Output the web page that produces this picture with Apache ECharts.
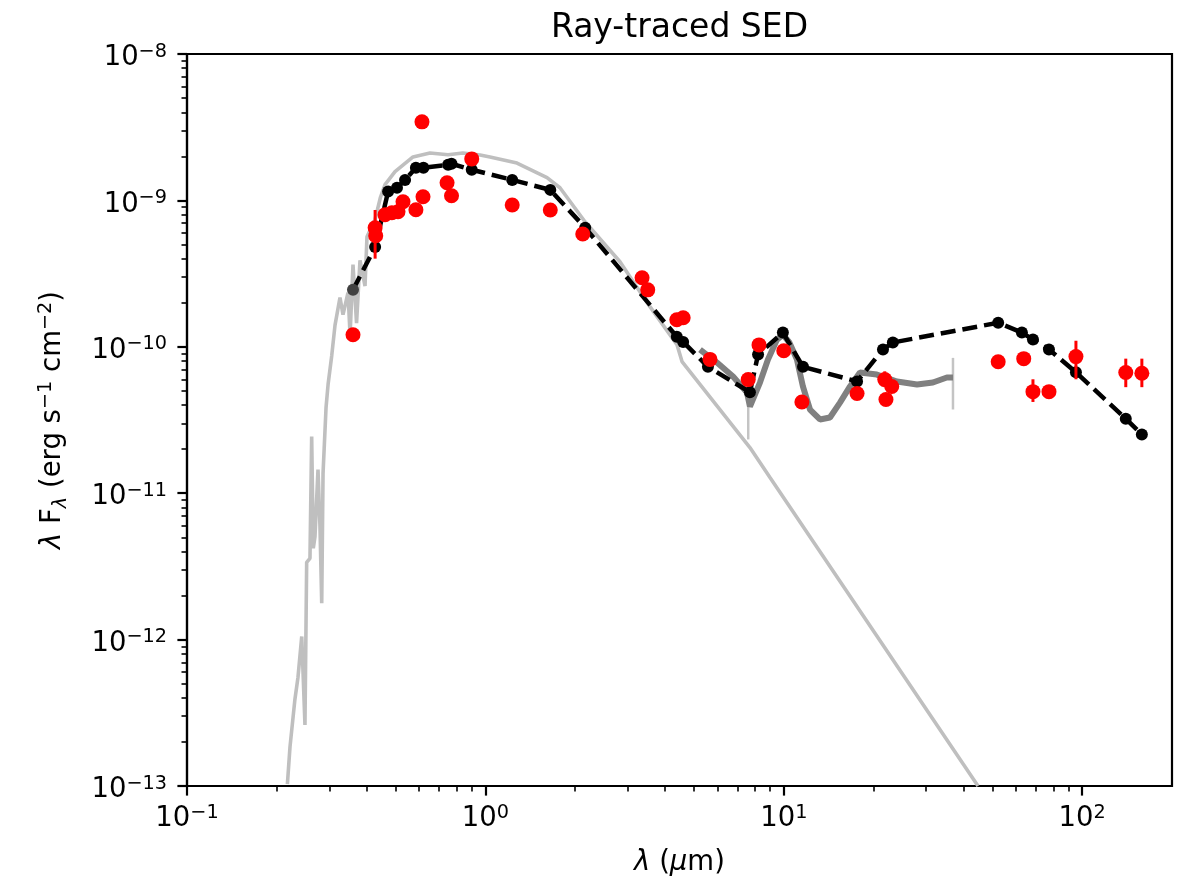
<!DOCTYPE html>
<html><head><meta charset="utf-8">
<script src="https://cdn.jsdelivr.net/npm/echarts@6/dist/echarts.min.js"></script>
<style>html,body{margin:0;padding:0;background:#fff}#c{width:1182px;height:885px}</style>
</head><body><div id="c"></div>
<script>
// ---------- data (λ in µm, λFλ in erg s^-1 cm^-2) ----------
const photosphere = [
  [0.217,1.03e-13],[0.2214,1.85e-13],[0.2300,3.92e-13],[0.2355,5.54e-13],[0.2424,1.05e-12],
  [0.2485,2.61e-13],[0.2518,3.37e-12],[0.2583,3.59e-12],[0.2617,2.44e-11],[0.2650,4.2e-12],
  [0.2685,5.07e-12],[0.2748,1.45e-11],[0.2790,6.0e-12],[0.2828,1.77e-12],[0.2857,1.36e-11],
  [0.2924,3.85e-11],[0.2970,5.52e-11],[0.3055,8.7e-11],[0.3133,1.40e-10],[0.3256,2.17e-10],
  [0.3333,1.66e-10],[0.3464,2.34e-10],[0.3520,1.2e-10],[0.3600,3.64e-10],[0.3700,1.45e-10],
  [0.3800,3.9e-10],[0.3950,2.6e-10],[0.4010,5.65e-10],[0.4266,7.38e-10],[0.4450,1.05e-9],
  [0.4609,1.28e-9],[0.4979,1.57e-9],[0.572,1.98e-9],[0.652,2.11e-9],[0.75,2.05e-9],
  [0.84,2.11e-9],[0.96,2.04e-9],[1.036,1.98e-9],[1.276,1.80e-9],[1.609,1.43e-9],
  [1.778,1.22e-9],[2.157,7.15e-10],[2.825,3.81e-10],[3.56,1.88e-10],[4.386,1.035e-10],
  [4.56,7.93e-11],[7.70,2.05e-11],[8.99,1.28e-11],[44.76,1.0e-13]
];
const spectrum = [
  [5.24,9.57e-11],[5.97,7.80e-11],[6.76,6.26e-11],[7.53,4.87e-11],[7.70,3.91e-11],
  [8.32,5.70e-11],[8.85,8.18e-11],[9.49,1.12e-10],[9.94,1.21e-10],[10.44,1.07e-10],
  [11.07,8.18e-11],[11.59,5.36e-11],[12.24,3.73e-11],[13.22,3.19e-11],[14.28,3.29e-11],
  [15.43,4.16e-11],[16.67,5.36e-11],[18.0,6.67e-11],[20.5,6.46e-11],[23.96,5.79e-11],
  [27.96,5.52e-11],[31.6,5.70e-11],[35.2,6.17e-11],[36.9,6.17e-11]
];
const spectrumSpikes = [ // [λ, low, high]
  [7.6,2.33e-11,4.4e-11],[36.9,3.73e-11,8.4e-11]
];
const modelSED = [
  [0.36,2.45e-10],[0.427,4.8e-10],[0.472,1.15e-9],[0.5055,1.22e-9],[0.538,1.38e-9],
  [0.585,1.67e-9],[0.62,1.67e-9],[0.75,1.75e-9],[0.77,1.78e-9],[0.90,1.62e-9],
  [1.23,1.38e-9],[1.65,1.18e-9],[2.16,6.5e-10],[4.38,1.17e-10],[4.6,1.08e-10],
  [5.57,7.3e-11],[7.7,4.9e-11],[8.2,8.85e-11],[9.93,1.25e-10],[11.6,7.3e-11],
  [17.6,5.8e-11],[21.5,9.6e-11],[23.2,1.07e-10],[52.3,1.46e-10],[62.8,1.25e-10],
  [68.4,1.12e-10],[77.4,9.6e-11],[95.3,6.7e-11],[140,3.23e-11],[158.5,2.52e-11]
];
const observed = [
  [0.36,1.21e-10],[0.427,6.5e-10],[0.429,5.74e-10],[0.461,7.98e-10],[0.486,8.23e-10],
  [0.5095,8.36e-10],[0.5295,9.78e-10],[0.585,8.63e-10],[0.613,3.44e-9],[0.618,1.058e-9],
  [0.744,1.32e-9],[0.77,1.075e-9],[0.90,1.92e-9],[1.23,9.3e-10],[1.65,8.6e-10],
  [2.12,5.9e-10],[3.35,2.96e-10],[3.5,2.45e-10],[4.38,1.53e-10],[4.6,1.58e-10],
  [5.66,8.2e-11],[7.6,5.97e-11],[8.26,1.03e-10],[10.0,9.4e-11],[11.5,4.2e-11],
  [17.6,4.8e-11],[21.8,5.97e-11],[23.0,5.36e-11],[22.0,4.37e-11],[52.3,7.9e-11],
  [63.7,8.3e-11],[68.4,4.94e-11],[77.4,4.94e-11],[95.3,8.57e-11],[140,6.67e-11],
  [158.5,6.6e-11]
];
const observedErr = [ // [λ, low, high]
  [0.427,4.0e-10,8.6e-10],[21.8,5.3e-11,6.8e-11],[68.4,4.2e-11,6.0e-11],
  [95.3,6.0e-11,1.1e-10],[140,5.3e-11,8.3e-11],[158.5,5.3e-11,8.3e-11]
];
const xMajorTicks = [0.1,1,10,100];
const xMinorTicks = [0.2,0.3,0.4,0.5,0.6,0.7,0.8,0.9,2,3,4,5,6,7,8,9,20,30,40,50,60,70,80,90];
const yMajorTicks = [1e-13,1e-12,1e-11,1e-10,1e-9,1e-8];
const minorMultipliers = [2,3,4,5,6,7,8,9];
const yMinorTicks = yMajorTicks.slice(0,-1).flatMap(d => minorMultipliers.map(m => m*d));
const titleText = 'Ray-traced SED';

// ---------- chart ----------
const FONT = 'DejaVu Sans';
const fmtPow = v => { const e = Math.round(Math.log10(v)); return '{b|10}{s|' + (e < 0 ? '\u2212' + (-e) : String(e)) + '}'; };
const tickRich = {
  b:{fontSize:27.5,lineHeight:32,fontFamily:FONT,color:'#000'},
  s:{fontSize:19.25,lineHeight:19.5,verticalAlign:'top',fontFamily:FONT,color:'#000'}
};
const nameRich = {
  i:{fontSize:27.5,lineHeight:34,fontFamily:FONT,fontStyle:'italic',color:'#000'},
  n:{fontSize:27.5,lineHeight:34,fontFamily:FONT,color:'#000'},
  sub:{fontSize:19.25,lineHeight:20,verticalAlign:'bottom',fontFamily:FONT,fontStyle:'italic',color:'#000'},
  sup:{fontSize:19.25,lineHeight:19.5,verticalAlign:'top',fontFamily:FONT,color:'#000'}
};
const lineW = 2.2;
function vbar(color, width) {
  return function (params, api) {
    const x = api.value(0);
    const p1 = api.coord([x, api.value(1)]);
    const p2 = api.coord([x, api.value(2)]);
    return {type:'line', shape:{x1:p1[0],y1:p1[1],x2:p2[0],y2:p2[1]}, style:{stroke:color,lineWidth:width}};
  };
}
const chart = echarts.init(document.getElementById('c'), null, {renderer:'canvas'});
chart.setOption({
  animation:false,
  backgroundColor:'#fff',
  graphic:[{type:'text', x:679.5, y:28, style:{text:titleText, font:'33px "DejaVu Sans"', fill:'#000', textAlign:'center', textVerticalAlign:'middle'}}],
  grid:{left:187, top:54, width:985, height:733, show:true, borderColor:'#000', borderWidth:lineW, backgroundColor:'transparent'},
  xAxis:[
    {type:'log', logBase:10, min:0.1, max:200, position:'bottom',
     axisLine:{show:true, onZero:false, lineStyle:{color:'#000', width:lineW}},
     axisTick:{show:true, length:9.6, customValues:xMajorTicks, lineStyle:{color:'#000', width:lineW}},
     axisLabel:{show:true, customValues:xMajorTicks, margin:17, formatter:fmtPow, rich:tickRich},
     splitLine:{show:false}, minorTick:{show:false},
     name:'{i|\u03bb}{n| (}{i|\u03bc}{n|m)}', nameLocation:'middle', nameGap:60,
     nameTextStyle:{fontSize:27.5, lineHeight:34, fontFamily:FONT, color:'#000', rich:nameRich}},
    {type:'log', logBase:10, min:0.1, max:200, position:'bottom',
     axisLine:{show:false}, axisLabel:{show:false}, splitLine:{show:false},
     axisTick:{show:true, length:5.5, customValues:xMinorTicks, lineStyle:{color:'#000', width:1.6}}}
  ],
  yAxis:[
    {type:'log', logBase:10, min:1e-13, max:1e-8, position:'left',
     axisLine:{show:true, onZero:false, lineStyle:{color:'#000', width:lineW}},
     axisTick:{show:true, length:9.6, customValues:yMajorTicks, lineStyle:{color:'#000', width:lineW}},
     axisLabel:{show:true, customValues:yMajorTicks, margin:20, formatter:fmtPow, rich:tickRich, padding:[8,0,0,0]},
     splitLine:{show:false}, minorTick:{show:false},
     name:'{i|\u03bb}{n| F}{sub|\u03bb}{n| (erg s}{sup|\u22121}{n| cm}{sup|\u22122}{n|)}',
     nameLocation:'middle', nameRotate:90, nameGap:117,
     nameTextStyle:{fontSize:27.5, lineHeight:34, fontFamily:FONT, color:'#000', rich:nameRich}},
    {type:'log', logBase:10, min:1e-13, max:1e-8, position:'left',
     axisLine:{show:false}, axisLabel:{show:false}, splitLine:{show:false},
     axisTick:{show:true, length:5.5, customValues:yMinorTicks, lineStyle:{color:'#000', width:1.6}}}
  ],
  series:[
    {name:'photosphere', type:'line', xAxisIndex:0, yAxisIndex:0, data:photosphere, symbol:'none', showSymbol:false,
     lineStyle:{color:'#bfbfbf', width:3.6}, z:2, clip:true},
    {name:'spikes', type:'custom', xAxisIndex:0, yAxisIndex:0, data:spectrumSpikes, renderItem:vbar('#c4c4c4', 2.5),
     encode:{x:0, y:[1,2]}, z:3},
    {name:'spectrum', type:'line', xAxisIndex:0, yAxisIndex:0, data:spectrum, symbol:'none', showSymbol:false,
     lineStyle:{color:'#808080', width:6}, z:3},
    {name:'model', type:'line', xAxisIndex:0, yAxisIndex:0,
     data:modelSED.map((p,i) => i === 0 ? {value:p, itemStyle:{color:'#404040'}} : p),
     symbol:'circle', symbolSize:12, showSymbol:true, itemStyle:{color:'#000'},
     lineStyle:{color:'#000', width:4.5, type:[15,7]}, z:4},
    {name:'errors', type:'custom', xAxisIndex:0, yAxisIndex:0, data:observedErr, renderItem:vbar('#ff0000', 3),
     encode:{x:0, y:[1,2]}, z:5},
    {name:'observed', type:'scatter', xAxisIndex:0, yAxisIndex:0, data:observed, symbol:'circle', symbolSize:15,
     itemStyle:{color:'#ff0000', opacity:1}, z:6}
  ]
});
</script></body></html>
